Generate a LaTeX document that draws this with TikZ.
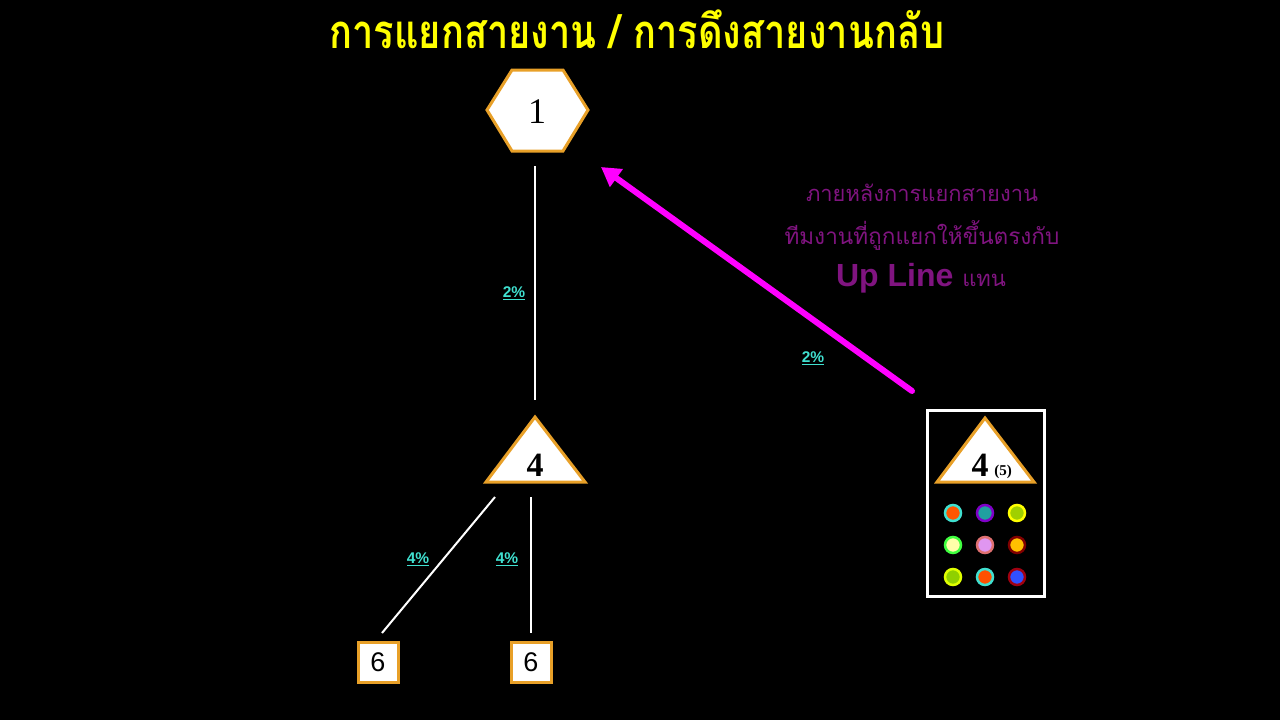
\documentclass[tikz,border=0pt]{standalone}
\usepackage{fontspec}
\setmainfont{Liberation Serif}
\newfontfamily\thaifont[Script=Thai]{Loma}
\newfontfamily\arialfont{Liberation Sans}
\usetikzlibrary{arrows.meta}
\definecolor{shapeorange}{RGB}{232,160,40}
\definecolor{pcttext}{RGB}{64,224,208}
\definecolor{notepurple}{RGB}{128,20,128}
\definecolor{arrowmag}{RGB}{255,0,255}
\definecolor{titleyellow}{RGB}{255,255,0}
\tikzset{
  shapeline/.style={draw=shapeorange, fill=white, line width=3pt, line join=miter},
  wire/.style={draw=white, line width=2pt},
  pct/.style={text=pcttext, font=\arialfont\bfseries\fontsize{15.5}{15.5}\selectfont},
  num/.style={text=black, inner sep=0pt},
  boxsix/.style={shapeline, minimum width=40pt, minimum height=40pt, inner sep=0pt,
    font=\arialfont\fontsize{27}{27}\selectfont},
  dot/.style={line width=2.5pt}
}
\begin{document}
\begin{tikzpicture}[x=1pt,y=-1pt]
\fill[black] (0,0) rectangle (1280,720);
\useasboundingbox (0,0) rectangle (1280,720);

% title
\node[text=titleyellow, inner sep=0pt] (title) at (637,29)
  {\scalebox{0.95}[1.18]{\thaifont\bfseries\fontsize{40}{40}\selectfont การแยกสายงาน / การดึงสายงานกลับ}};

% hexagon 1
\draw[shapeline] (512,70) -- (563,70) -- (588,110) -- (563,151) -- (512,151) -- (487,110) -- cycle;
\node[num, font=\fontsize{36}{36}\selectfont] (n1) at (537,112) {1};
\coordinate (n1b) at (535,166);

% triangle 4
\draw[shapeline] (535,417) -- (585,482) -- (486,482) -- cycle;
\node[num, font=\bfseries\fontsize{34}{34}\selectfont] (n4) at (535,465) {4};
\coordinate (n4t) at (535,400);
\coordinate (n4l) at (495,497);
\coordinate (n4r) at (531,497);

% boxes 6
\node[boxsix] (s1) at (378,662) {6};
\node[boxsix] (s2) at (531,662) {6};
\coordinate (s1t) at (382,633);
\coordinate (s2t) at (531,633);

% connectors
\draw[wire] (n1b) -- (n4t);
\draw[wire] (n4l) -- (s1t);
\draw[wire] (n4r) -- (s2t);

\node[pct] (p1) at (514,293) {\underline{2\%}};
\node[pct] (p2) at (418,559) {\underline{4\%}};
\node[pct] (p3) at (507,559) {\underline{4\%}};
\node[pct] (p4) at (813,358) {\underline{2\%}};

% right box
\draw[white, line width=3pt] (927,410) rectangle (1044,596);
\node[inner sep=0pt, minimum width=117pt, minimum height=186pt] (grp) at (985.5,503) {};
\draw[shapeline] (985,418) -- (1034,482) -- (937,482) -- cycle;
\node[num, font=\bfseries\fontsize{34}{34}\selectfont] (g4) at (980,465) {4};
\node[num, font=\bfseries\fontsize{15}{15}\selectfont] (g5) at (1003,472) {(5)};

% dots
\filldraw[dot, draw=pcttext, fill={rgb,255:red,255;green,85;blue,0}] (953,513) circle (8);
\filldraw[dot, draw={rgb,255:red,128;green,0;blue,200}, fill={rgb,255:red,32;green,160;blue,160}] (985,513) circle (8);
\filldraw[dot, draw=titleyellow, fill={rgb,255:red,160;green,208;blue,0}] (1017,513) circle (8);
\filldraw[dot, draw={rgb,255:red,64;green,255;blue,64}, fill={rgb,255:red,255;green,255;blue,170}] (953,545) circle (8);
\filldraw[dot, draw={rgb,255:red,224;green,112;blue,112}, fill={rgb,255:red,224;green,150;blue,240}] (985,545) circle (8);
\filldraw[dot, draw={rgb,255:red,128;green,0;blue,0}, fill={rgb,255:red,255;green,192;blue,0}] (1017,545) circle (8);
\filldraw[dot, draw={rgb,255:red,224;green,255;blue,0}, fill={rgb,255:red,144;green,208;blue,0}] (953,577) circle (8);
\filldraw[dot, draw=pcttext, fill={rgb,255:red,255;green,80;blue,0}] (985,577) circle (8);
\filldraw[dot, draw={rgb,255:red,160;green,0;blue,16}, fill={rgb,255:red,48;green,80;blue,255}] (1017,577) circle (8);

% magenta arrow
\coordinate (arrS) at (912,391);
\coordinate (arrE) at (601,167);
\draw[draw=arrowmag, line width=6pt, line cap=round, -{Triangle[length=19pt,width=21pt]}] (arrS) -- (arrE);

% purple note
\node[text=notepurple, inner sep=0pt] (note1) at (922,193)
  {\resizebox{232pt}{!}{\thaifont\fontsize{22}{22}\selectfont ภายหลังการแยกสายงาน}};
\node[text=notepurple, inner sep=0pt] (note2) at (922,235)
  {\resizebox{275pt}{!}{\thaifont\fontsize{22}{22}\selectfont ทีมงานที่ถูกแยกให้ขึ้นตรงกับ}};
\node[text=notepurple, inner sep=0pt, anchor=base] (note3) at (921,286)
  {\arialfont\bfseries\fontsize{32}{32}\selectfont Up Line\ {\thaifont\mdseries\fontsize{22}{22}\selectfont แทน}};
\end{tikzpicture}
\end{document}
